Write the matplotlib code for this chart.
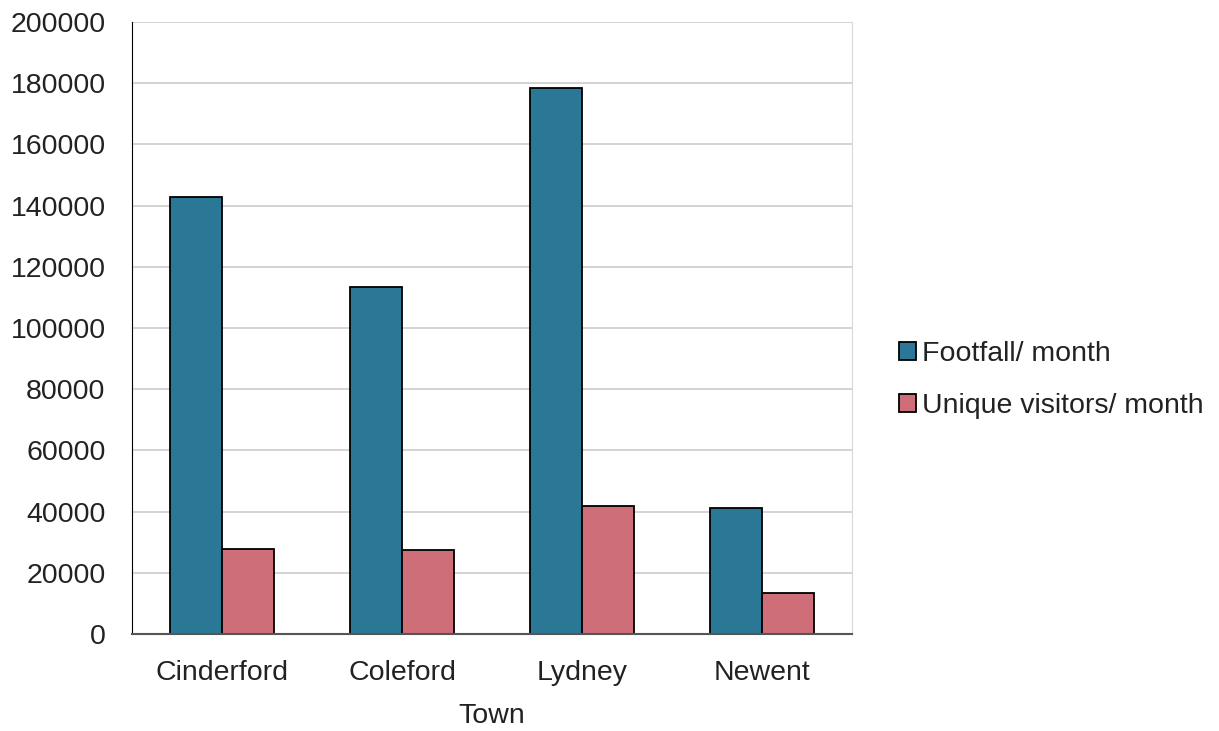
import matplotlib.pyplot as plt
import numpy as np

plt.rcParams['font.family'] = ['Liberation Sans', 'DejaVu Sans']

towns = ["Cinderford", "Coleford", "Lydney", "Newent"]
footfall = [142800, 113300, 178400, 41100]
unique_visitors = [27700, 27300, 41800, 13400]

fig = plt.figure(figsize=(12.19, 7.31), dpi=100)
ax = fig.add_axes([132 / 1219, 97 / 731, 720 / 1219, 612 / 731])

x = np.arange(len(towns))
w = 0.29
ax.bar(x - w / 2, footfall, w, color="#2a7896", edgecolor="black", linewidth=1.3,
       label="Footfall/ month", zorder=3)
ax.bar(x + w / 2, unique_visitors, w, color="#cd6e78", edgecolor="black", linewidth=1.3,
       label="Unique visitors/ month", zorder=3)

ax.set_xlim(-0.5, len(towns) - 0.5)
ax.set_ylim(0, 200000)
ax.set_yticks(range(0, 200001, 20000))
ax.set_xticks(x)
ax.set_xticklabels(towns)
ax.tick_params(axis="both", length=0, labelsize=20.5, colors="#222222")
ax.tick_params(axis="x", pad=19)
ax.tick_params(axis="y", pad=19)
ax.set_xlabel("Town", fontsize=20.5, color="#222222", labelpad=12)

ax.yaxis.grid(True, color="#cccccc", linewidth=1.2, zorder=0)
ax.spines["top"].set_visible(False)
ax.spines["right"].set_color("#d9d9d9")
ax.spines["left"].set_color("black")
ax.spines["bottom"].set_color("#555555")
ax.spines["bottom"].set_linewidth(1.5)
ax.spines["bottom"].set_zorder(4)

ax.legend(loc="center left", bbox_to_anchor=(1.03, 0.415), frameon=False, fontsize=20.5,
          handlelength=0.6, handleheight=0.6, handletextpad=0.2, labelspacing=0.9,
          labelcolor="#222222")

fig.savefig("out.png", dpi=100)
